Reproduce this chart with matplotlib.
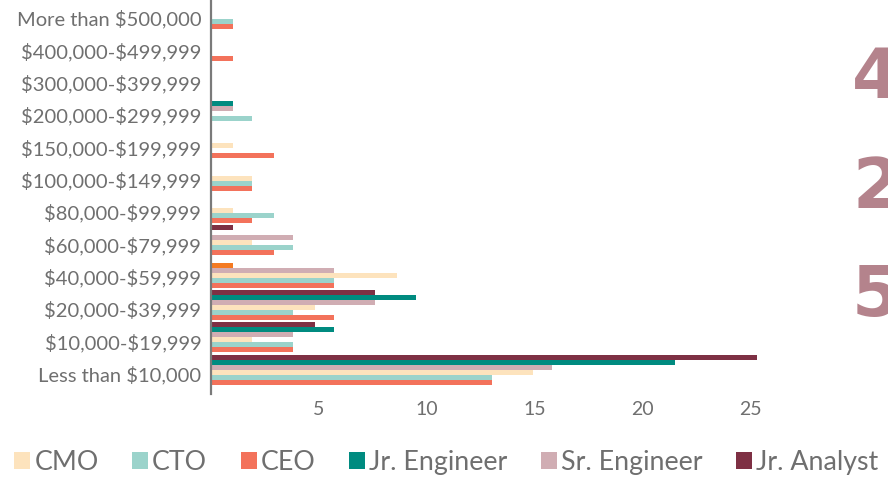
import matplotlib
matplotlib.use("Agg")
import matplotlib.pyplot as plt
from matplotlib.patches import Patch
import numpy as np

plt.rcParams["text.parse_math"] = False

categories = ["Less than $10,000", "$10,000-$19,999", "$20,000-$39,999",
              "$40,000-$59,999", "$60,000-$79,999", "$80,000-$99,999",
              "$100,000-$149,999", "$150,000-$199,999", "$200,000-$299,999",
              "$300,000-$399,999", "$400,000-$499,999", "More than $500,000"]

cmo = [14.9, 1.9, 4.8, 8.6, 1.9, 1, 1.9, 1, 0, 0, 0, 0]
cto = [13, 3.8, 3.8, 5.7, 3.8, 2.9, 1.9, 0, 1.9, 0, 0, 1]
ceo = [13, 3.8, 5.7, 5.7, 2.9, 1.9, 1.9, 2.9, 0, 0, 1, 1]
jr_engineer = [21.5, 5.7, 9.5, 1, 0, 0, 0, 0, 1, 0, 0, 0]
sr_engineer = [15.8, 3.8, 7.6, 5.7, 3.8, 0, 0, 0, 1, 0, 0, 0]
jr_analyst = [25.3, 4.8, 7.6, 0, 1, 0, 0, 0, 0, 0, 0, 0]

legend_order = ["CMO", "CTO", "CEO", "Jr. Engineer", "Sr. Engineer", "Jr. Analyst"]
colors = {"CMO": "#fde3bd", "CTO": "#9bd3cb", "CEO": "#f3725b",
          "Jr. Engineer": "#008b80", "Sr. Engineer": "#d0adb3", "Jr. Analyst": "#7e3044"}

# top-to-bottom order of bars inside each group
stack = [("Jr. Analyst", jr_analyst), ("Jr. Engineer", jr_engineer),
         ("Sr. Engineer", sr_engineer), ("CMO", cmo), ("CTO", cto), ("CEO", ceo)]

grey = "#6f6f6f"
font = "Lato"

fig = plt.figure(figsize=(8.88, 4.81), dpi=100)
ax = fig.add_axes([211 / 888, 86 / 481, 572 / 888, 393 / 481])

y = np.arange(len(categories))
h = 0.155
for k, (name, vals) in enumerate(stack):
    offs = (2.5 - k) * h
    bar_colors = [colors[name]] * len(vals)
    if name == "Jr. Engineer":
        bar_colors[3] = "#f47a22"  # highlighted bar
    ax.barh(y + offs, vals, height=h, color=bar_colors, linewidth=0)

ax.set_xlim(0, 26.5)
ax.set_ylim(-0.75, 11.4)
# labels sit a little below the middle of each group
ax.set_yticks(y - 0.09)
ax.set_yticklabels(categories, fontsize=14.5, color=grey, family=font)
ax.set_xticks([5, 10, 15, 20, 25])
ax.set_xticklabels(["5", "10", "15", "20", "25"], fontsize=14, color=grey, family=font)
ax.tick_params(axis="y", length=0, pad=7)
ax.tick_params(axis="x", length=0, pad=4)
for s in ["top", "right", "bottom"]:
    ax.spines[s].set_visible(False)
ax.spines["left"].set_color("#7a7a7a")
ax.spines["left"].set_linewidth(1.6)

# large numbers at the right edge
for txt, yy in [("4", 79), ("2", 189), ("5", 297)]:
    fig.text(852 / 888, 1 - yy / 481, txt, fontsize=50, fontweight="heavy",
             color="#b4838c", ha="left", va="center", family="DejaVu Sans")

handles = [Patch(facecolor=colors[n], edgecolor="none") for n in legend_order]
leg = fig.legend(handles, legend_order, loc="center left", bbox_to_anchor=(0.004, 1 - 463 / 481),
                 ncol=6, frameon=False, handlelength=0.6, handleheight=0.6,
                 handletextpad=0.15, columnspacing=1.25, borderaxespad=0,
                 prop={"family": font, "size": 19.3})
for t in leg.get_texts():
    t.set_color(grey)

fig.savefig("out.png", dpi=100)
